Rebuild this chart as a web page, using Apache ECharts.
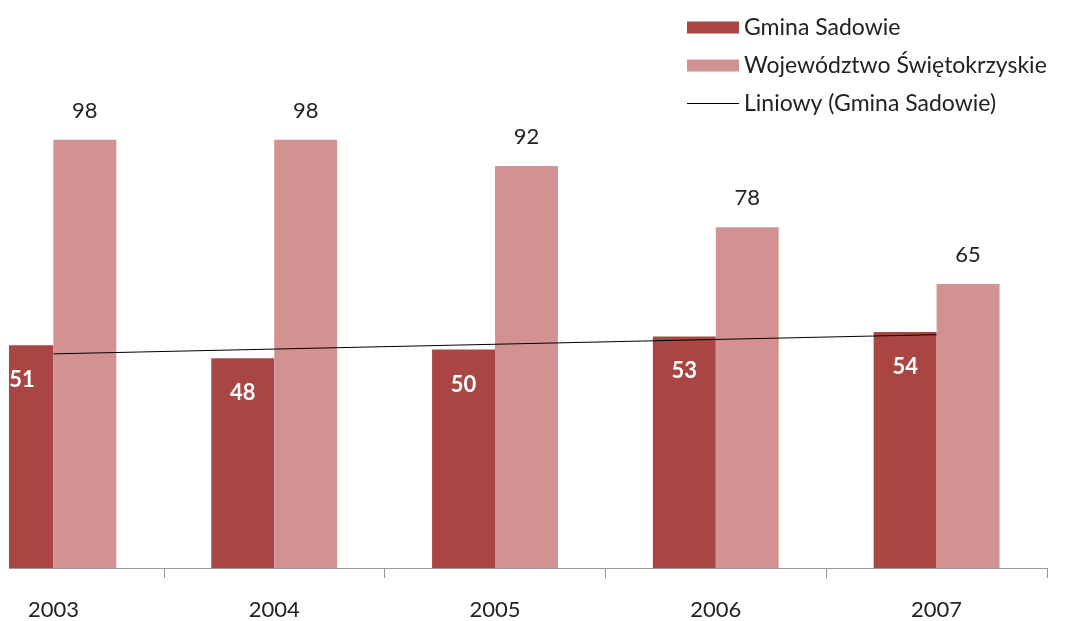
<!DOCTYPE html>
<html><head><meta charset="utf-8">
<script src="https://cdn.jsdelivr.net/npm/echarts@6/dist/echarts.min.js"></script>
<style>html,body{margin:0;padding:0;background:#fff;overflow:hidden;width:1067px;height:621px;position:relative}
#c{position:absolute;left:-57px;top:0;width:1124px;height:621px}
#mask{position:absolute;left:0;top:0;width:9px;height:621px;background:#fff}</style>
</head><body><div id="c"></div><div id="mask"></div>
<script>
const categories = ['2003','2004','2005','2006','2007'];
const gminaSadowie = [51, 48, 50, 53, 54];
const wojewodztwo = [98, 98, 92, 78, 65];
const trendGmina = [49.0, 50.1, 51.2, 52.3, 53.4];
const seriesNames = ['Gmina Sadowie', 'Województwo Świętokrzyskie', 'Liniowy (Gmina Sadowie)'];

const FONT = 'Lato';
const chart = echarts.init(document.getElementById('c'));
chart.setOption({
  animation: false,
  backgroundColor: '#fff',
  textStyle: { fontFamily: FONT },
  legend: {
    orient: 'vertical', left: 739, top: 11,
    itemWidth: 52, itemHeight: 12, itemGap: 15, itemTextGap: 3,
    textStyle: { fontFamily: FONT, fontSize: 23, color: '#222', lineHeight: 23 },
    data: [
      { name: seriesNames[0], icon: 'rect' },
      { name: seriesNames[1], icon: 'rect' },
      { name: seriesNames[2], icon: 'path://M0,0 H52 V1 H0 Z', itemStyle: { color: '#000' } }
    ]
  },
  grid: { left: 0, right: 20, top: 131, bottom: 53, containLabel: false },
  xAxis: {
    type: 'category', data: categories,
    axisLine: { lineStyle: { color: '#999', width: 1 } },
    axisTick: { show: true, length: 10, lineStyle: { color: '#999' } },
    axisLabel: { fontFamily: FONT, fontSize: 22, color: '#222', margin: 31 }
  },
  yAxis: { type: 'value', min: 0, max: 100, show: false, splitLine: { show: false } },
  series: [
    {
      name: seriesNames[0], type: 'bar', data: gminaSadowie,
      barGap: '0%', barCategoryGap: '43%',
      itemStyle: { color: '#A94643' },
      label: { show: true, position: 'insideTop', distance: 24, color: '#fff', fontWeight: 'bold', fontFamily: FONT, fontSize: 22 }
    },
    {
      name: seriesNames[1], type: 'bar', data: wojewodztwo,
      itemStyle: { color: '#D39292' },
      label: { show: true, position: 'top', distance: 18, color: '#222', fontFamily: FONT, fontSize: 22 }
    },
    {
      name: seriesNames[2], type: 'line', data: trendGmina,
      symbol: 'none', showSymbol: false, z: 5,
      lineStyle: { color: '#000', width: 1 }, itemStyle: { color: '#000' }
    }
  ]
});
</script></body></html>
